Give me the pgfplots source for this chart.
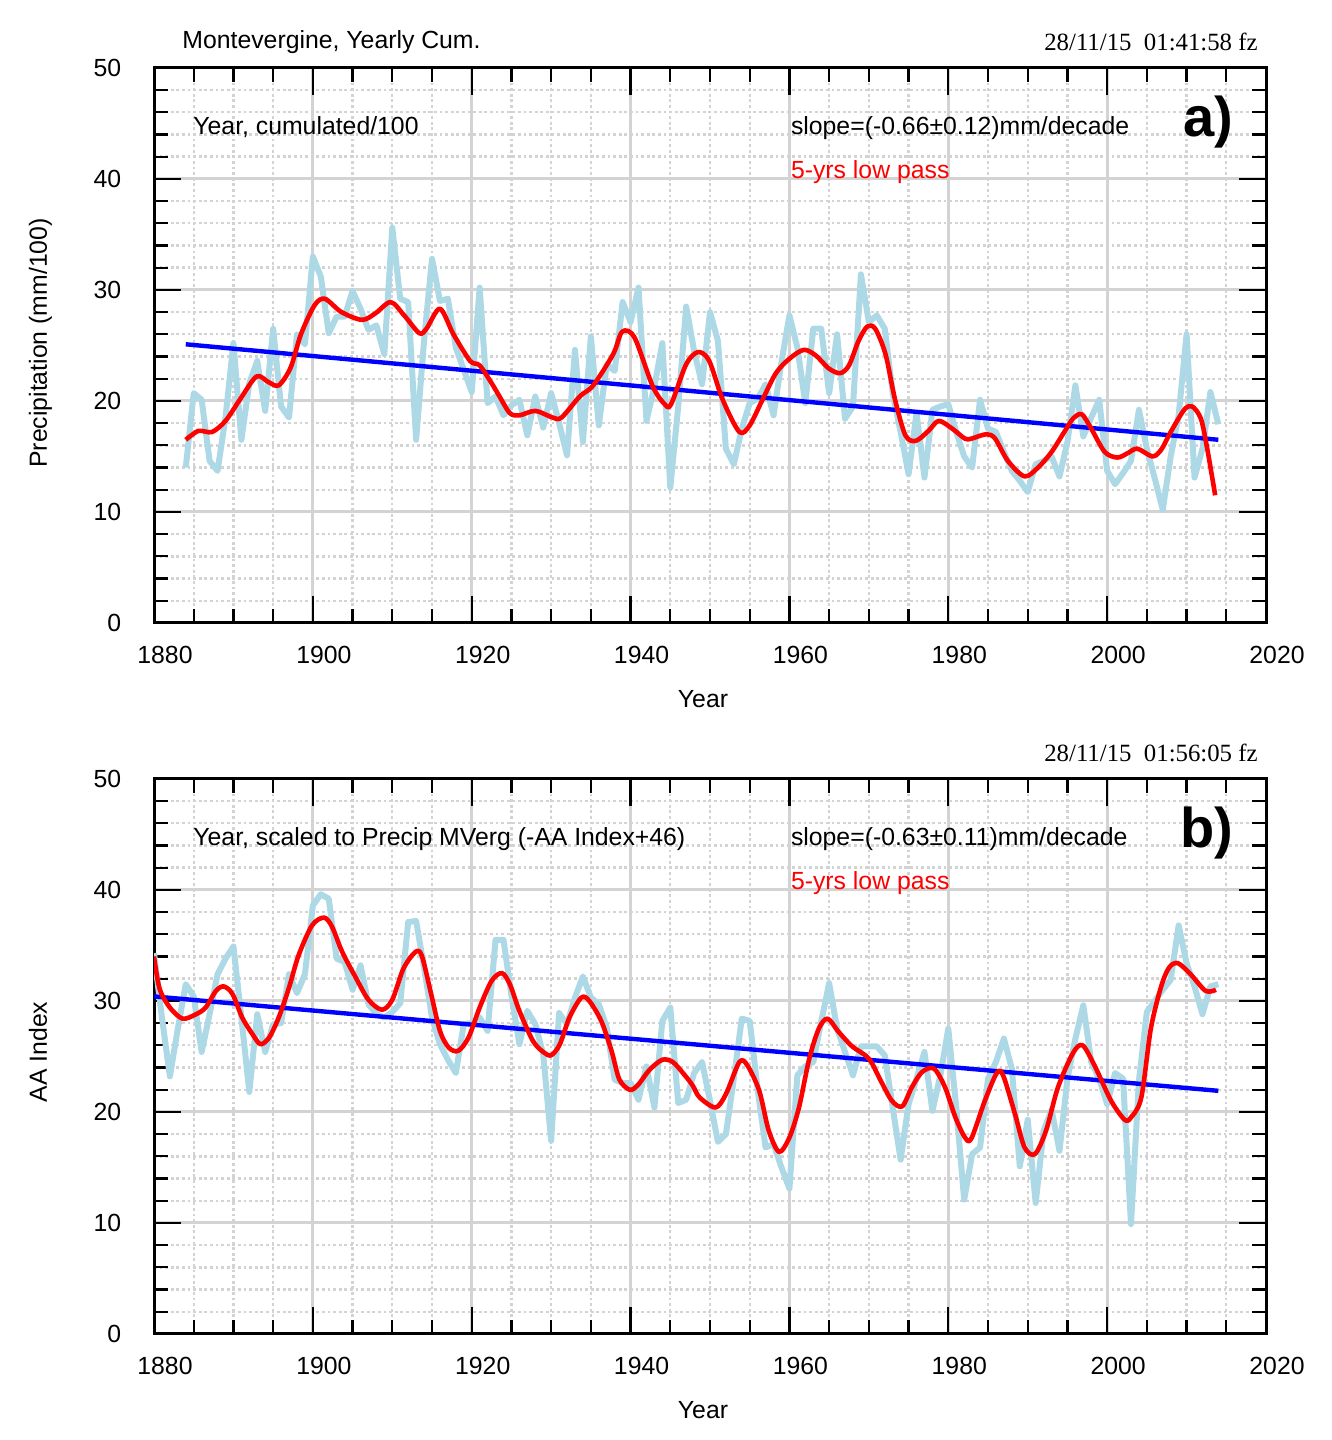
\documentclass[border=0pt]{standalone}
\usepackage{fontspec}
\setmainfont{Liberation Sans}
\newfontfamily\tsfont{Liberation Serif}
\usepackage{pgfplots}
\pgfplotsset{compat=1.18}
\definecolor{lblue}{RGB}{173,216,230}
\definecolor{gridgray}{RGB}{211,211,211}
\definecolor{pred}{RGB}{255,0,0}
\definecolor{pblue}{RGB}{0,0,255}
\newcommand{\fs}{\fontsize{12.4}{14}\selectfont}
\pgfplotsset{
  mvstyle/.style={
    scale only axis, width=556pt, height=277.6pt,
    xmin=1880, xmax=2020, ymin=0, ymax=50,
    xtick={1880,1900,...,2020}, ytick={0,10,...,50},
    minor x tick num=3, minor y tick num=4,
    grid=both,
    major grid style={gridgray, line width=1.5pt},
    minor grid style={gridgray, line width=1.2pt, dash pattern=on 1.4pt off 1.4pt},
    axis line style={line width=1.5pt},
    tick style={black, line width=1.1pt},
    major tick length=13.5pt, minor tick length=7pt,
    tick align=inside,
    /pgf/number format/assume math mode=true,
    /pgf/number format/1000 sep={},
    ticklabel style={font=\fs},
    xticklabel style={xshift=5.5pt, yshift=-7.9pt},
    yticklabel style={xshift=-12.9pt},
    anchor=south west,
  },
  lb/.style={lblue, line width=3pt, line join=round},
  rd/.style={pred, line width=2.3pt, smooth, line join=round},
  bl/.style={pblue, line width=2.2pt},
}
\begin{document}
\begin{tikzpicture}
\path[use as bounding box] (0,0) rectangle (666pt,720pt);

% ---------------- panel a ----------------
\begin{axis}[mvstyle, at={(77pt,408.5pt)}]
\addplot[lb] coordinates {
(1884,14.0)(1885,20.7)(1886,20.1)(1887,14.6)(1888,13.7)(1889,18.5)(1890,25.2)
(1891,16.5)(1892,21.6)(1893,23.6)(1894,19.1)(1895,26.5)(1896,19.5)(1897,18.5)
(1898,26.0)(1899,25.1)(1900,33.0)(1901,31.2)(1902,26.1)(1903,27.6)(1904,27.6)
(1905,29.9)(1906,28.3)(1907,26.4)(1908,26.8)(1909,24.2)(1910,35.6)(1911,29.2)
(1912,28.9)(1913,16.5)(1914,25.4)(1915,32.8)(1916,29.0)(1917,29.2)(1918,24.8)
(1919,22.8)(1920,20.8)(1921,30.2)(1922,19.8)(1923,20.4)(1924,18.7)(1925,19.6)
(1926,20.1)(1927,16.9)(1928,20.4)(1929,17.6)(1930,20.7)(1931,18.0)(1932,15.1)
(1933,24.6)(1934,16.3)(1935,25.8)(1936,17.8)(1937,23.3)(1938,22.7)(1939,28.9)
(1940,27.1)(1941,30.2)(1942,18.2)(1943,21.3)(1944,25.2)(1945,12.2)(1946,19.5)
(1947,28.5)(1948,24.5)(1949,21.5)(1950,28.0)(1951,25.4)(1952,15.7)(1953,14.3)
(1954,17.5)(1955,19.8)(1956,20.2)(1957,21.5)(1958,18.7)(1959,23.5)(1960,27.7)
(1961,24.8)(1962,19.8)(1963,26.5)(1964,26.5)(1965,20.7)(1966,26.0)(1967,18.4)
(1968,19.5)(1969,31.4)(1970,27.1)(1971,27.7)(1972,26.5)(1973,20.7)(1974,17.2)
(1975,13.4)(1976,18.9)(1977,13.1)(1978,19.2)(1979,19.5)(1980,19.7)(1981,17.2)
(1982,15.0)(1983,14.0)(1984,20.1)(1985,17.5)(1986,17.2)(1987,15.4)(1988,13.7)
(1989,12.8)(1990,11.8)(1991,14.3)(1992,14.6)(1993,15.0)(1994,13.2)(1995,16.3)
(1996,21.4)(1997,16.8)(1998,18.5)(1999,20.1)(2000,13.7)(2001,12.5)(2002,13.5)
(2003,14.6)(2004,19.2)(2005,15.7)(2006,13.0)(2007,10.2)(2008,15.0)(2009,18.7)
(2010,26.0)(2011,13.1)(2012,15.7)(2013,20.8)(2014,17.9)
};
\addplot[bl] coordinates {(1884,25.1)(2014,16.5)};
\addplot[rd] coordinates {
(1884.0,16.5)(1885.6,17.3)(1887.3,17.2)(1889.0,18.2)(1890.8,20.1)(1892.9,22.2)
(1894.4,21.7)(1895.7,21.4)(1897.2,23.0)(1898.5,26.0)(1900.2,28.6)(1901.5,29.2)
(1903.6,28.0)(1906.2,27.3)(1907.9,27.9)(1909.8,28.9)(1911.5,27.7)(1913.4,26.1)
(1914.3,26.5)(1916.0,28.3)(1917.7,26.0)(1919.8,23.6)(1921.0,23.2)(1922.5,21.6)
(1923.5,20.4)(1924.8,18.9)(1926.0,18.7)(1928.0,19.1)(1930.2,18.5)(1931.3,18.5)
(1933.6,20.4)(1935.3,21.4)(1937.8,24.2)(1938.8,26.1)(1939.7,26.3)(1940.7,25.4)
(1942.8,21.3)(1944.3,19.7)(1945.1,19.7)(1947.0,23.3)(1948.5,24.4)(1949.9,23.6)
(1951.6,20.1)(1953.7,17.2)(1955.0,17.8)(1956.6,20.1)(1958.3,22.5)(1960.0,23.8)
(1961.8,24.6)(1963.3,24.1)(1965.0,22.9)(1966.4,22.5)(1967.5,23.2)(1968.7,25.4)
(1969.8,26.7)(1970.8,26.5)(1972.1,24.2)(1973.3,20.1)(1974.6,16.9)(1975.9,16.4)
(1977.5,17.3)(1978.8,18.2)(1980.5,17.5)(1982.1,16.6)(1982.9,16.6)(1984.8,17.0)
(1985.9,16.6)(1987.5,14.6)(1989.6,13.2)(1991.3,14.0)(1993.0,15.4)(1994.6,17.2)
(1995.7,18.4)(1996.8,18.8)(1998.0,17.5)(1999.7,15.4)(2001.3,14.9)(2002.6,15.3)
(2003.8,15.7)(2005.7,15.0)(2006.8,15.6)(2008.0,17.2)(2009.7,19.2)(2010.7,19.5)
(2011.8,18.4)(2012.6,15.7)(2013.6,11.5)
};
\end{axis}

% ---------------- panel b ----------------
\begin{axis}[mvstyle, at={(77pt,53pt)}]
\addplot[lb] coordinates {
(1880,34.3)(1881,28.5)(1882,23.2)(1883,27.5)(1884,31.5)(1885,30.4)(1886,25.4)
(1887,28.8)(1888,32.4)(1889,33.8)(1890,34.9)(1891,28.5)(1892,21.8)(1893,28.8)
(1894,25.4)(1895,27.9)(1896,28.0)(1897,32.4)(1898,30.7)(1899,32.4)(1900,38.6)
(1901,39.6)(1902,39.2)(1903,33.8)(1904,33.5)(1905,31.0)(1906,33.2)(1907,29.7)
(1908,28.8)(1909,28.5)(1910,29.0)(1911,29.8)(1912,37.1)(1913,37.2)(1914,33.0)
(1915,28.5)(1916,26.1)(1917,24.7)(1918,23.5)(1919,27.9)(1920,28.0)(1921,28.5)
(1922,27.3)(1923,35.5)(1924,35.5)(1925,30.5)(1926,26.1)(1927,29.1)(1928,27.9)
(1929,25.2)(1930,17.4)(1931,28.9)(1932,27.9)(1933,30.3)(1934,32.2)(1935,30.3)
(1936,29.7)(1937,27.6)(1938,22.9)(1939,22.6)(1940,22.6)(1941,21.1)(1942,24.1)
(1943,20.4)(1944,28.2)(1945,29.4)(1946,20.8)(1947,21.1)(1948,23.5)(1949,24.5)
(1950,21.0)(1951,17.3)(1952,18.0)(1953,23.0)(1954,28.4)(1955,28.2)(1956,22.0)
(1957,16.8)(1958,17.1)(1959,15.0)(1960,13.1)(1961,23.3)(1962,24.1)(1963,24.5)
(1964,28.1)(1965,31.6)(1966,27.5)(1967,25.4)(1968,23.3)(1969,25.9)(1970,25.9)
(1971,25.9)(1972,25.1)(1973,20.4)(1974,15.7)(1975,20.7)(1976,23.0)(1977,25.4)
(1978,20.1)(1979,23.3)(1980,27.5)(1981,20.4)(1982,12.1)(1983,16.2)(1984,16.8)
(1985,23.0)(1986,24.5)(1987,26.6)(1988,23.9)(1989,15.1)(1990,19.3)(1991,11.8)
(1992,18.3)(1993,20.2)(1994,16.5)(1995,23.0)(1996,26.6)(1997,29.6)(1998,24.5)
(1999,23.0)(2000,20.7)(2001,23.5)(2002,23.0)(2003,9.9)(2004,22.8)(2005,29.0)
(2006,30.0)(2007,31.0)(2008,31.9)(2009,36.8)(2010,33.4)(2011,31.3)(2012,28.8)
(2013,31.3)(2014,31.5)
};
\addplot[bl] coordinates {(1880,30.4)(2014,21.9)};
\addplot[rd] coordinates {
(1880.0,34.0)(1880.7,31.1)(1882.0,29.4)(1883.6,28.4)(1885.3,28.8)(1886.5,29.4)
(1887.8,30.9)(1888.8,31.3)(1889.9,30.6)(1891.1,28.5)(1892.4,27.0)(1893.4,26.1)
(1894.5,26.7)(1895.7,28.5)(1897.0,31.2)(1898.2,34.1)(1899.9,36.8)(1901.4,37.5)
(1902.4,36.7)(1903.7,34.4)(1905.4,32.1)(1907.0,30.1)(1908.7,29.2)(1910.0,30.1)
(1911.4,32.9)(1912.9,34.4)(1913.7,34.1)(1914.8,30.9)(1916.0,27.3)(1917.1,25.8)
(1918.3,25.5)(1919.6,26.7)(1921.0,29.4)(1922.5,31.8)(1923.8,32.5)(1924.8,31.5)
(1926.0,29.1)(1927.7,26.4)(1929.0,25.4)(1930.0,25.1)(1931.1,26.1)(1932.3,28.5)
(1933.8,30.3)(1934.8,30.0)(1936.3,28.2)(1937.6,25.5)(1938.6,22.9)(1939.9,22.0)
(1940.9,22.4)(1942.4,23.8)(1944.0,24.7)(1945.3,24.5)(1946.6,23.5)(1947.8,22.4)
(1948.7,21.3)(1950.7,20.4)(1952.0,21.6)(1953.7,24.5)(1954.7,24.2)(1956.2,21.9)
(1957.4,18.3)(1958.7,16.4)(1960.0,17.7)(1961.2,20.4)(1962.5,24.8)(1963.7,27.5)
(1964.8,28.4)(1966.2,27.2)(1967.9,25.9)(1970.0,24.8)(1971.5,22.8)(1972.9,21.0)
(1974.2,20.5)(1975.4,22.2)(1976.7,23.6)(1978.2,23.9)(1979.6,22.2)(1980.9,19.5)
(1982.1,17.7)(1982.9,17.6)(1984.6,21.0)(1986.1,23.5)(1986.9,23.3)(1988.4,19.8)
(1989.6,16.8)(1990.9,16.2)(1992.3,18.3)(1993.8,22.2)(1995.7,25.3)(1996.9,26.0)
(1998.4,24.2)(2000.5,21.0)(2002.2,19.3)(2003.0,19.5)(2004.3,21.3)(2005.5,27.5)
(2006.8,31.3)(2007.8,33.0)(2008.9,33.4)(2010.5,32.4)(2012.4,30.9)(2013.7,31.0)
};
\end{axis}

% ---------------- texts ----------------
\begin{scope}[every node/.style={inner sep=0pt, font=\fs}]
% panel a
\node[anchor=base west] at (91pt,695.85pt) {Montevergine, Yearly Cum.};
\node[anchor=base east, font=\fontsize{12.4}{14}\tsfont] at (629pt,694.65pt) {28/11/15\ \ 01:41:58 fz};
\node[anchor=base west] at (96.5pt,652.5pt) {Year, cumulated/100};
\node[anchor=base west] at (395.3pt,652.5pt) {slope=(-0.66±0.12)mm/decade};
\node[anchor=base west, text=pred] at (395.3pt,630.8pt) {5-yrs low pass};
\node[anchor=base west, font=\fontsize{28}{30}\selectfont\bfseries] at (591.5pt,651.7pt) {a)};
\node[anchor=base] at (351.5pt,366pt) {Year};
\node[anchor=base, rotate=90] at (23.5pt,548.5pt) {Precipitation (mm/100)};
% panel b
\node[anchor=base east, font=\fontsize{12.4}{14}\tsfont] at (629pt,339.15pt) {28/11/15\ \ 01:56:05 fz};
\node[anchor=base west] at (96.5pt,297pt) {Year, scaled to Precip MVerg (-AA Index+46)};
\node[anchor=base west] at (395.3pt,297pt) {slope=(-0.63±0.11)mm/decade};
\node[anchor=base west, text=pred] at (395.3pt,275.3pt) {5-yrs low pass};
\node[anchor=base west, font=\fontsize{28}{30}\selectfont\bfseries] at (590pt,296.2pt) {b)};
\node[anchor=base] at (351.5pt,10.5pt) {Year};
\node[anchor=base, rotate=90] at (23.5pt,194pt) {AA Index};
\end{scope}
\end{tikzpicture}
\end{document}
